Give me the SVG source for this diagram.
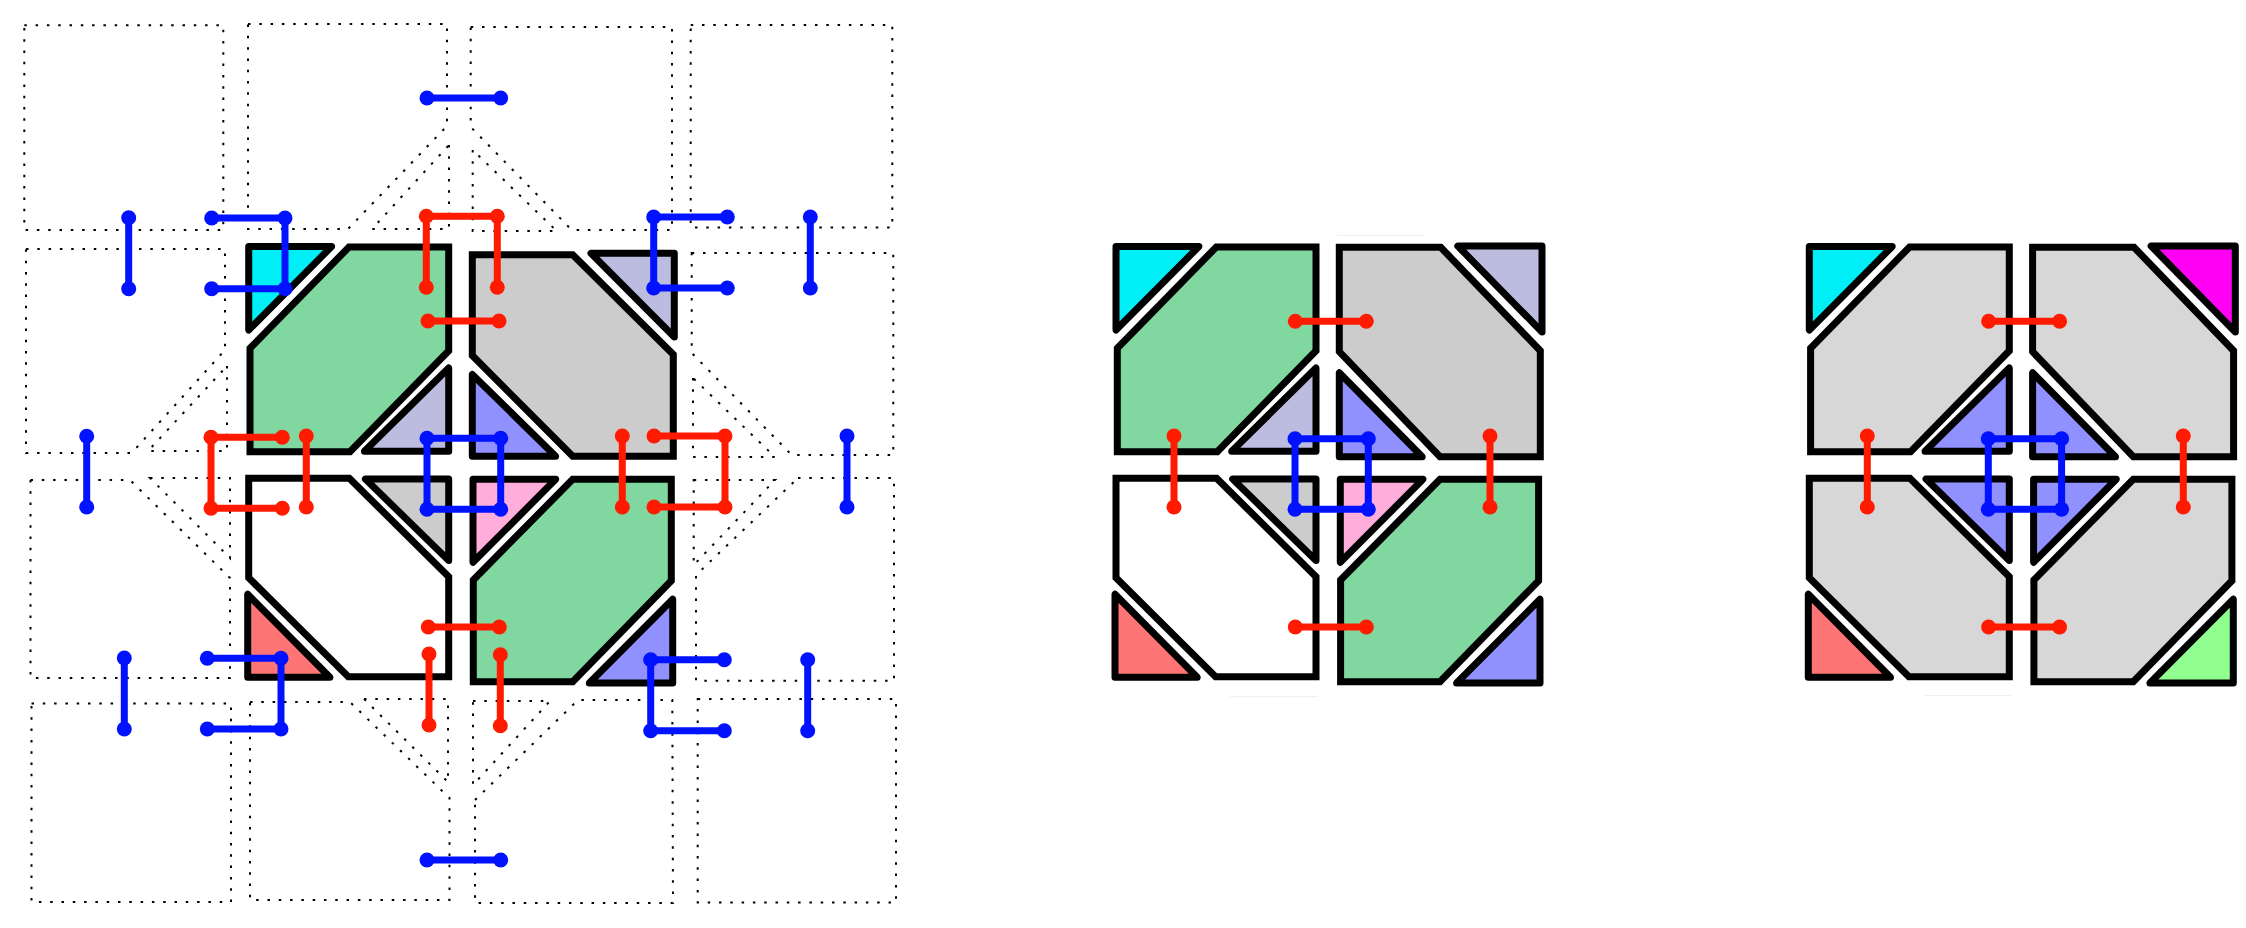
<svg xmlns="http://www.w3.org/2000/svg" width="2246" height="928" viewBox="0 0 2246 928">
<style>
.d{fill:none;stroke:#000;stroke-width:2;stroke-dasharray:2.5 8.8}
.p{stroke:#000;stroke-width:7;stroke-linejoin:miter;stroke-miterlimit:10}
.t{stroke:#000;stroke-width:7;stroke-linejoin:round}
.b{fill:none;stroke:#0012ff;stroke-width:7;stroke-linejoin:round}
.r{fill:none;stroke:#ff1a00;stroke-width:7;stroke-linejoin:round}
.bd{fill:#0012ff}
.rd{fill:#ff1a00}
.f{fill:none;stroke:#eee;stroke-width:1}
.cy{fill:#00eef6}.gr{fill:#80d8a0}.gy{fill:#ccc}.li{fill:#bcbce0}.bl{fill:#9090ff}.pk{fill:#ffaedc}.rs{fill:#ff7474}.wh{fill:#fff}.lg{fill:#d7d7d7}.mg{fill:#ff00f4}.lt{fill:#90ff90}
</style>
<defs>
<circle id="bdot" r="7.5" class="bd"/>
<circle id="rdot" r="7.5" class="rd"/>
</defs>
<rect width="2246" height="928" fill="#fff"/>
<g id="scaffold">
<path class="d" d="M24.3 25.3H223.3V230H24.3Z"/>
<path class="d" d="M248 24H447V126L348 229H248Z"/>
<path class="d" d="M449 145V229H372Z"/>
<path class="d" d="M470.7 27H672V230H571.7L470.7 127Z"/>
<path class="d" d="M472.7 150V231H556.7Z"/>
<path class="d" d="M690.7 25H892.3V227.5H690.7Z"/>
<path class="d" d="M26 249H225V350L131.7 453H26Z"/>
<path class="d" d="M227 366V451H148Z"/>
<path class="d" d="M691.7 253H893.3V455H791.7L691.7 353Z"/>
<path class="d" d="M693 378V457H775Z"/>
<path class="d" d="M30.5 480H130L230 578V678H30.5Z"/>
<path class="d" d="M150 478H230V558Z"/>
<path class="d" d="M798 478H894V680.7H696V575Z"/>
<path class="d" d="M693.7 480H775L693.7 565Z"/>
<path class="d" d="M31.5 703.5H231V902H31.5Z"/>
<path class="d" d="M250 702H350L449.5 798V900H250Z"/>
<path class="d" d="M364 699H448V782Z"/>
<path class="d" d="M475 800L578 700H672.3L673 903H475Z"/>
<path class="d" d="M473 701H550L473 785Z"/>
<path class="d" d="M697.7 699H896V902.5H697.7Z"/>
</g>
<g id="fig1">
<g id="a-tl-tri"><polygon class="t cy" points="248.7,246.5 331.6,246.5 248.7,330"/></g>
<g id="a-tl-oct"><polygon class="p gr" points="349,247 448.7,247 448.7,350.7 350,451.7 250,451.7 250,348.3"/></g>
<g id="a-tl-in"><polygon class="t li" points="448.7,368 448.7,451.3 364.4,451.3"/></g>
<g id="a-tr-oct"><polygon class="p gy" points="472.3,254.7 572.7,254.7 673.3,354.5 673.3,456.3 572.7,456.3 472.3,355.5"/></g>
<g id="a-tr-tri"><polygon class="t li" points="591,253.3 674.3,253.3 674.3,337"/></g>
<g id="a-tr-in"><polygon class="t bl" points="472.3,374.4 472.3,456.3 555.6,456.3"/></g>
<g id="a-bl-in"><polygon class="t gy" points="365.4,479 448.7,479 448.7,560.6"/></g>
<g id="a-bl-oct"><polygon class="p wh" points="248.7,478.3 349.3,478.3 448.7,576.7 448.7,676.7 348.3,676.7 248.7,577.7"/></g>
<g id="a-bl-tri"><polygon class="t rs" points="247.7,594.3 247.7,677.3 329.9,677.3"/></g>
<g id="a-br-in"><polygon class="t pk" points="473,479.3 555.7,479.3 473,562.3"/></g>
<g id="a-br-oct"><polygon class="p gr" points="572.7,479.3 671.3,479.3 671.3,580.7 572.7,681.7 473.3,681.7 473.3,580"/></g>
<g id="a-br-tri"><polygon class="t bl" points="672.7,599.3 672.7,683 589.3,683"/></g>
</g>
<g id="fig2" transform="translate(867.3 0)">
<g id="b-tl-tri"><polygon class="t cy" points="248.7,246.5 331.6,246.5 248.7,330"/></g>
<g id="b-tl-oct"><polygon class="p gr" points="349,247 448.7,247 448.7,350.7 350,451.7 250,451.7 250,348.3"/></g>
<g id="b-tl-in"><polygon class="t li" points="448.7,368 448.7,451.3 364.4,451.3"/></g>
<g id="b-tr-oct"><polygon class="p gy" points="472,247.3 573.4,247.3 673,350.7 673,456.7 572.7,456.7 472,351.7"/></g>
<g id="b-tr-tri"><polygon class="t li" points="590.5,246 674.7,246 674.7,332"/></g>
<g id="b-tr-in"><polygon class="t bl" points="472,372.8 472,456.7 554.9,456.7"/></g>
<g id="b-bl-in"><polygon class="t gy" points="365.4,479 448.7,479 448.7,560.6"/></g>
<g id="b-bl-oct"><polygon class="p wh" points="248.7,478.3 349.3,478.3 448.7,576.7 448.7,676.7 348.3,676.7 248.7,577.7"/></g>
<g id="b-bl-tri"><polygon class="t rs" points="247.7,594.3 247.7,677.3 329.9,677.3"/></g>
<g id="b-br-in"><polygon class="t pk" points="473,479.3 555.7,479.3 473,562.3"/></g>
<g id="b-br-oct"><polygon class="p gr" points="572.7,479.3 671.3,479.3 671.3,580.7 572.7,681.7 473.3,681.7 473.3,580"/></g>
<g id="b-br-tri"><polygon class="t bl" points="672.7,599.3 672.7,683 589.3,683"/></g>
</g>
<g id="fig3" transform="translate(1560.6 0)">
<g id="c-tl-tri"><polygon class="t cy" points="248.7,246.5 331.6,246.5 248.7,330"/></g>
<g id="c-tl-oct"><polygon class="p lg" points="349,247 448.7,247 448.7,350.7 350,451.7 250,451.7 250,348.3"/></g>
<g id="c-tl-in"><polygon class="t bl" points="448.7,368 448.7,451.3 364.4,451.3"/></g>
<g id="c-tr-oct"><polygon class="p lg" points="472,247.3 573.4,247.3 673,350.7 673,456.7 572.7,456.7 472,351.7"/></g>
<g id="c-tr-tri"><polygon class="t mg" points="590.5,246 674.7,246 674.7,332"/></g>
<g id="c-tr-in"><polygon class="t bl" points="472,372.8 472,456.7 554.9,456.7"/></g>
<g id="c-bl-in"><polygon class="t bl" points="365.4,479 448.7,479 448.7,560.6"/></g>
<g id="c-bl-oct"><polygon class="p lg" points="248.7,478.3 349.3,478.3 448.7,576.7 448.7,676.7 348.3,676.7 248.7,577.7"/></g>
<g id="c-bl-tri"><polygon class="t rs" points="247.7,594.3 247.7,677.3 329.9,677.3"/></g>
<g id="c-br-in"><polygon class="t bl" points="473,479.3 555.7,479.3 473,562.3"/></g>
<g id="c-br-oct"><polygon class="p lg" points="572.7,479.3 671.3,479.3 671.3,580.7 572.7,681.7 473.3,681.7 473.3,580"/></g>
<g id="c-br-tri"><polygon class="t lt" points="672.7,599.3 672.7,683 589.3,683"/></g>
</g>
<g id="faint">
<path class="f" d="M1337 235.3H1425M1230 696.7H1318M1924 695.7H2012"/>
</g>
<g id="connectors">
<g id="conn1">
<path class="b" d="M128.7 217.7V288.7M211.7 218H285V288.7H211.7M427 98H500.7M86.7 436.3V507M427 438.3H500.7V509.3H427ZM653.7 217H727.3M653.7 217V288H727.3M810.3 217V288M847 436V507M207.3 658.3H281V729H207.3M124.3 658V729M427 860H500.7M650.7 659.7H724.3M650.7 659.7V730.7H724.3M807.7 659.7V730.7"/>
<path class="r" d="M426.3 287.3V216.3H497.3V287.3M428 321H499M282.3 437.3H211V508.3H282.3M306.3 436V507M622.3 436V507M654 436H725V507H654M429 654V725M428.3 627H499.3M500.3 654.7V725.7"/>
<g>
<use href="#bdot" x="128.7" y="217.7"/><use href="#bdot" x="128.7" y="288.7"/><use href="#bdot" x="211.7" y="218"/><use href="#bdot" x="285" y="218"/><use href="#bdot" x="285" y="288.7"/><use href="#bdot" x="211.7" y="288.7"/><use href="#bdot" x="427" y="98"/><use href="#bdot" x="500.7" y="98"/><use href="#bdot" x="86.7" y="436.3"/><use href="#bdot" x="86.7" y="507"/><use href="#bdot" x="427" y="438.3"/><use href="#bdot" x="500.7" y="438.3"/><use href="#bdot" x="500.7" y="509.3"/><use href="#bdot" x="427" y="509.3"/><use href="#bdot" x="653.7" y="217"/><use href="#bdot" x="727.3" y="217"/><use href="#bdot" x="653.7" y="288"/><use href="#bdot" x="727.3" y="288"/><use href="#bdot" x="810.3" y="217"/><use href="#bdot" x="810.3" y="288"/><use href="#bdot" x="847" y="436"/><use href="#bdot" x="847" y="507"/><use href="#bdot" x="207.3" y="658.3"/><use href="#bdot" x="281" y="658.3"/><use href="#bdot" x="281" y="729"/><use href="#bdot" x="207.3" y="729"/><use href="#bdot" x="124.3" y="658"/><use href="#bdot" x="124.3" y="729"/><use href="#bdot" x="427" y="860"/><use href="#bdot" x="500.7" y="860"/><use href="#bdot" x="650.7" y="659.7"/><use href="#bdot" x="724.3" y="659.7"/><use href="#bdot" x="650.7" y="730.7"/><use href="#bdot" x="724.3" y="730.7"/><use href="#bdot" x="807.7" y="659.7"/><use href="#bdot" x="807.7" y="730.7"/>
<use href="#rdot" x="426.3" y="216.3"/><use href="#rdot" x="497.3" y="216.3"/><use href="#rdot" x="426.3" y="287.3"/><use href="#rdot" x="497.3" y="287.3"/><use href="#rdot" x="428" y="321"/><use href="#rdot" x="499" y="321"/><use href="#rdot" x="211" y="437.3"/><use href="#rdot" x="282.3" y="437.3"/><use href="#rdot" x="211" y="508.3"/><use href="#rdot" x="282.3" y="508.3"/><use href="#rdot" x="306.3" y="436"/><use href="#rdot" x="306.3" y="507"/><use href="#rdot" x="622.3" y="436"/><use href="#rdot" x="622.3" y="507"/><use href="#rdot" x="654" y="436"/><use href="#rdot" x="725" y="436"/><use href="#rdot" x="725" y="507"/><use href="#rdot" x="654" y="507"/><use href="#rdot" x="429" y="654"/><use href="#rdot" x="429" y="725"/><use href="#rdot" x="428.3" y="627"/><use href="#rdot" x="499.3" y="627"/><use href="#rdot" x="500.3" y="654.7"/><use href="#rdot" x="500.3" y="725.7"/>
</g>
</g>
<g id="conn2" transform="translate(867.3 0)">
<path class="b" d="M427.7 438.7H501V509.3H427.7Z"/>
<path class="r" d="M428 321.3H499M306.7 436V507M622.7 436V507M428 627H499"/>
<use href="#bdot" x="427.7" y="438.7"/><use href="#bdot" x="501" y="438.7"/><use href="#bdot" x="501" y="509.3"/><use href="#bdot" x="427.7" y="509.3"/>
<use href="#rdot" x="428" y="321.3"/><use href="#rdot" x="499" y="321.3"/><use href="#rdot" x="306.7" y="436"/><use href="#rdot" x="306.7" y="507"/><use href="#rdot" x="622.7" y="436"/><use href="#rdot" x="622.7" y="507"/><use href="#rdot" x="428" y="627"/><use href="#rdot" x="499" y="627"/>
</g>
<g id="conn3" transform="translate(1560.6 0)">
<path class="b" d="M427.7 438.7H501V509.3H427.7Z"/>
<path class="r" d="M428 321.3H499M306.7 436V507M622.7 436V507M428 627H499"/>
<use href="#bdot" x="427.7" y="438.7"/><use href="#bdot" x="501" y="438.7"/><use href="#bdot" x="501" y="509.3"/><use href="#bdot" x="427.7" y="509.3"/>
<use href="#rdot" x="428" y="321.3"/><use href="#rdot" x="499" y="321.3"/><use href="#rdot" x="306.7" y="436"/><use href="#rdot" x="306.7" y="507"/><use href="#rdot" x="622.7" y="436"/><use href="#rdot" x="622.7" y="507"/><use href="#rdot" x="428" y="627"/><use href="#rdot" x="499" y="627"/>
</g>
</g>
</svg>
